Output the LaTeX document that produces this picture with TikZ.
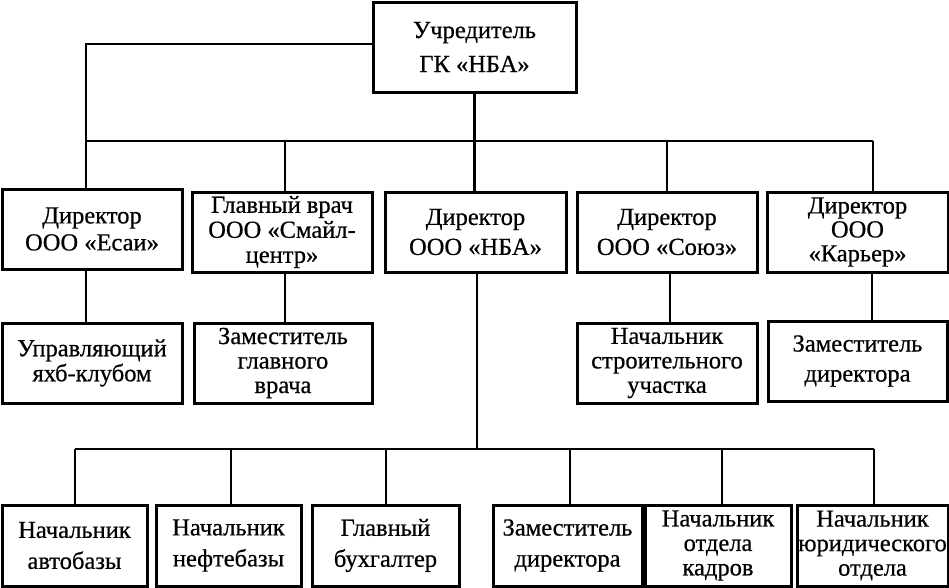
\documentclass[tikz,border=0pt]{standalone}
\usepackage{fontspec}
\setmainfont[FakeBold=0.6]{Liberation Serif}
\newcommand\fsz[1]{\fontsize{24.5}{#1}\selectfont}
\begin{document}
\begin{tikzpicture}[x=1pt,y=-1pt,
  box/.style={draw, line width=3pt, inner sep=0pt, align=center, text=black},
  thinline/.style={line width=1.1pt},
  thickline/.style={line width=2.2pt}]
\useasboundingbox (0,0) rectangle (949,587);
% top
\node[box, minimum width=203pt, minimum height=90pt, font=\fsz{34}] (top) at (474.5,47) {Учредитель\\ГК «НБА»};
% row 2
\node[box, minimum width=180pt, minimum height=80pt, font=\fsz{27}] (e1) at (92,229) {Директор\\ООО «Есаи»};
\node[box, minimum width=180pt, minimum height=80pt, font=\fsz{25}] (e2) at (282,232) {Главный врач\\ООО «Смайл-\\центр»};
\node[box, minimum width=181pt, minimum height=80pt, font=\fsz{30}] (e3) at (475.5,232) {Директор\\ООО «НБА»};
\node[box, minimum width=180pt, minimum height=80pt, font=\fsz{30}] (e4) at (667,232) {Директор\\ООО «Союз»};
\node[box, minimum width=181pt, minimum height=80pt, font=\fsz{24}] (e5) at (857.5,232) {Директор\\ООО\\«Карьер»};
% row 3
\node[box, minimum width=180pt, minimum height=80pt, font=\fsz{25}] (r1) at (92,363) {Управляющий\\яхб-клубом};
\node[box, minimum width=178pt, minimum height=80pt, font=\fsz{24.5}] (r2) at (283,363) {Заместитель\\главного\\врача};
\node[box, minimum width=180pt, minimum height=80pt, font=\fsz{24.5}] (r4) at (667,363) {Начальник\\строительного\\участка};
\node[box, minimum width=179pt, minimum height=80pt, font=\fsz{30}] (r5) at (857.5,361) {Заместитель\\директора};
% row 4
\node[box, minimum width=145pt, minimum height=81pt, font=\fsz{31}] (f1) at (74.5,545.5) {Начальник\\автобазы};
\node[box, minimum width=145pt, minimum height=81pt, font=\fsz{31}] (f2) at (228.5,545.5) {Начальник\\нефтебазы};
\node[box, minimum width=147pt, minimum height=81pt, font=\fsz{31}] (f3) at (385.5,545.5) {Главный\\бухгалтер};
\node[box, minimum width=149pt, minimum height=81pt, font=\fsz{31}] (f4) at (567.5,545.5) {Заместитель\\директора};
\node[box, minimum width=146pt, minimum height=81pt, font=\fsz{24.5}] (f5) at (718,545.5) {Начальник\\отдела\\кадров};
\node[box, minimum width=151pt, minimum height=81pt, font=\fsz{24.5}] (f6) at (872.5,545.5) {Начальник\\юридического\\отдела};
% junctions, upper bus
\coordinate (k0) at (86,44);
\coordinate (j1) at (86,141);
\coordinate (j2) at (285,141);
\coordinate (j4) at (667,141);
\coordinate (j5) at (873,141);
\draw[thinline] (k0 -| top.west) -- (k0) -- (k0 |- e1.north);
\draw[thinline] (j1) -- (j5);
\draw[thinline] (j2) -- (j2 |- e2.north);
\draw[thinline] (j4) -- (j4 |- e4.north);
\draw[thinline] (j5) -- (j5 |- e5.north);
\draw[thickline] (top.south) -- (top.south |- e3.north);
% row 2 to row 3
\coordinate (c1) at (86,300);
\coordinate (c2) at (285,300);
\coordinate (c4) at (670,300);
\coordinate (c5) at (872,300);
\draw[thinline] (c1 |- e1.south) -- (c1 |- r1.north);
\draw[thinline] (c2 |- e2.south) -- (c2 |- r2.north);
\draw[thickline] (c4 |- e4.south) -- (c4 |- r4.north);
\draw[thickline] (c5 |- e5.south) -- (c5 |- r5.north);
% lower bus
\coordinate (n3) at (477,449);
\coordinate (b1) at (75,449);
\coordinate (b2) at (231,449);
\coordinate (b3) at (386,449);
\coordinate (b4) at (570,449);
\coordinate (b5) at (722,449);
\coordinate (b6) at (874,449);
\draw[thinline] (n3 |- e3.south) -- (n3);
\draw[thinline] (b1) -- (b6);
\draw[thinline] (b1) -- (b1 |- f1.north);
\draw[thickline] (b2) -- (b2 |- f2.north);
\draw[thinline] (b3) -- (b3 |- f3.north);
\draw[thickline] (b4) -- (b4 |- f4.north);
\draw[thinline] (b5) -- (b5 |- f5.north);
\draw[thinline] (b6) -- (b6 |- f6.north);
\end{tikzpicture}
\end{document}
